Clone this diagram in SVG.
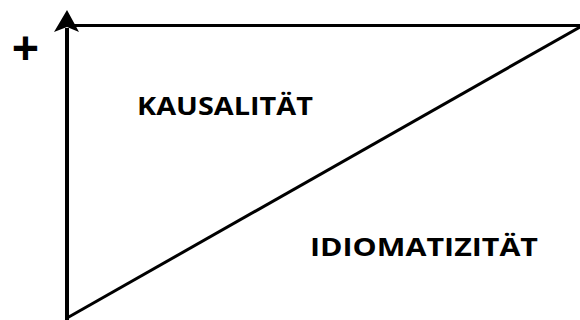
<svg xmlns="http://www.w3.org/2000/svg" width="580" height="320" viewBox="0 0 580 320">
<style>
.lbl{font-family:"Open Sans","Liberation Sans",sans-serif;font-weight:bold;font-size:25px;fill:#000}
.ln{stroke:#000;fill:none}
</style>
<rect width="580" height="320" fill="#fff"/>
<g id="connectors">
<line class="ln" x1="67" y1="320" x2="67" y2="28" stroke-width="4"/>
<polygon points="67,10 79,32 67,27 54,32" fill="#000"/>
<line class="ln" x1="67" y1="25.5" x2="580" y2="25.5" stroke-width="3"/>
<line class="ln" x1="67" y1="318" x2="580" y2="27" stroke-width="3"/>
</g>
<g id="plus"><text class="lbl" x="25.5" y="65" text-anchor="middle" style="font-size:48px">+</text></g>
<g id="kausalitaet" transform="scale(1.08,1)"><text class="lbl" x="126.85" y="115" textLength="162.96" lengthAdjust="spacingAndGlyphs">KAUSALITÄT</text></g>
<g id="idiomatizitaet" transform="scale(1.08,1)"><text class="lbl" x="287.04" y="256" textLength="211.11" lengthAdjust="spacingAndGlyphs">IDIOMATIZITÄT</text></g>
</svg>
